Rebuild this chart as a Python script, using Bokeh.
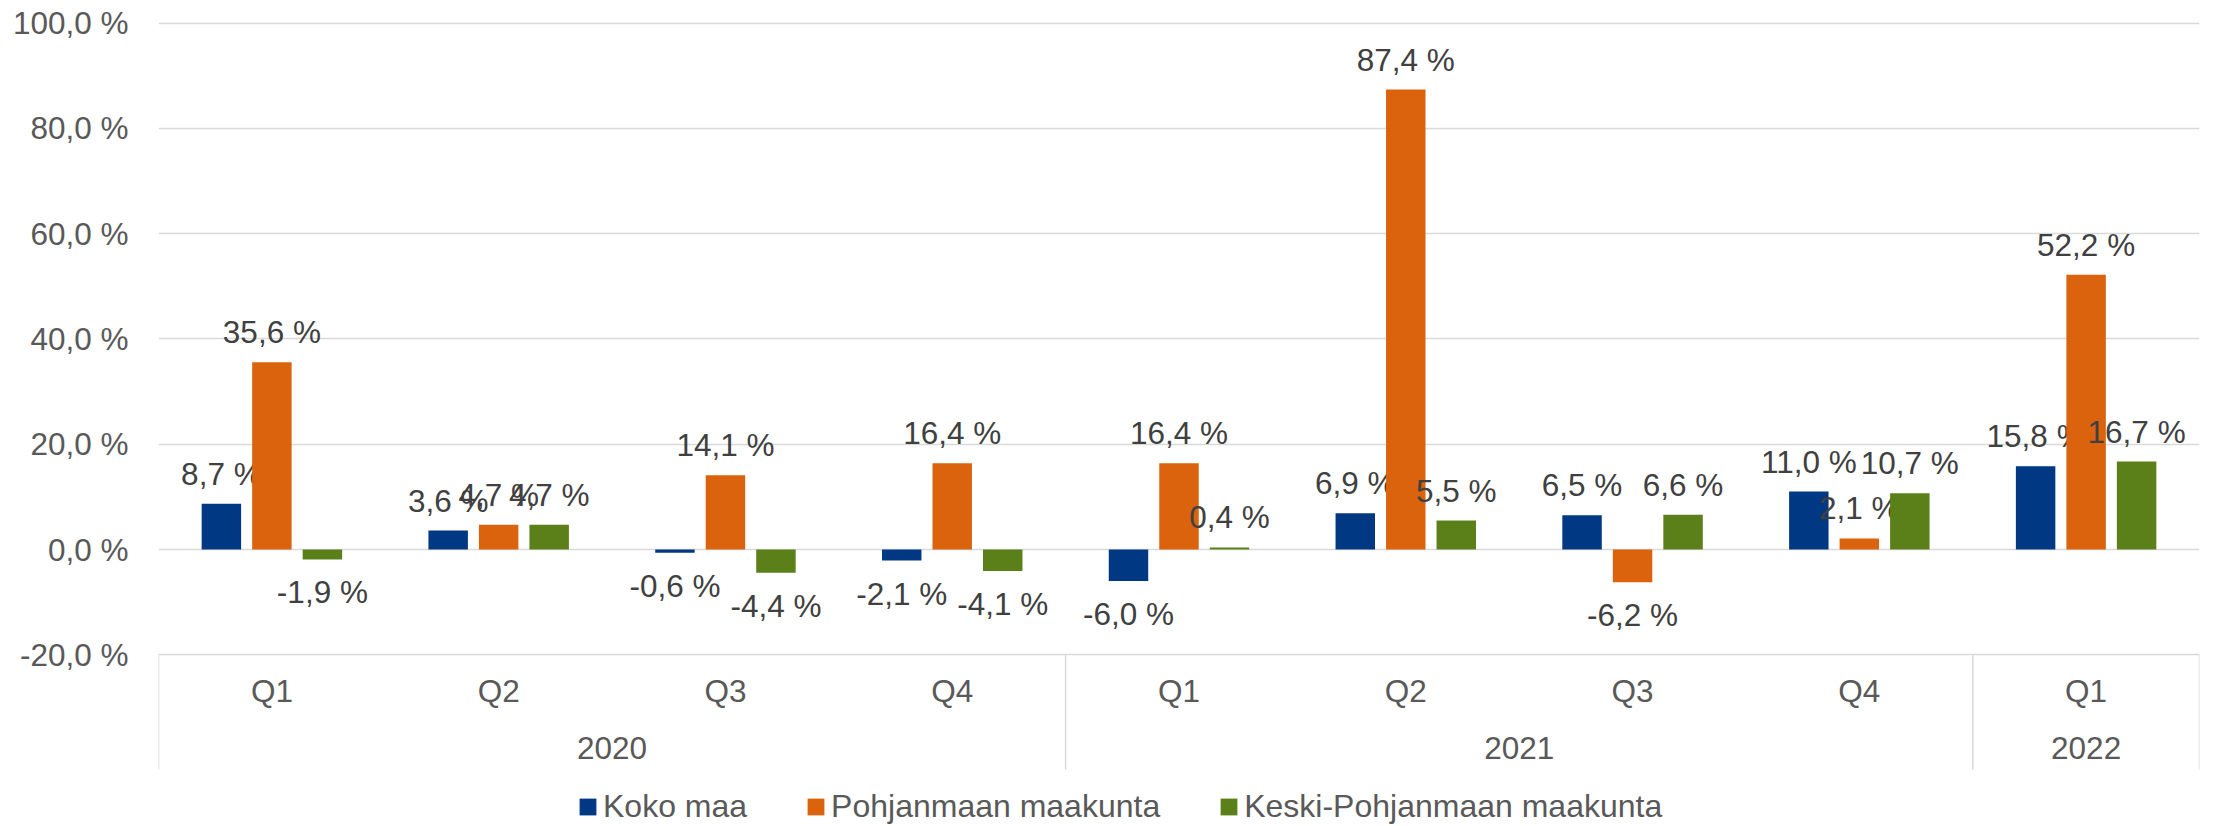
from bokeh.plotting import figure
from bokeh.models import ColumnDataSource, FixedTicker, Legend, LegendItem, Range1d
from bokeh.embed import file_html
from bokeh.resources import INLINE
from bokeh.core.properties import value

# ---- data ----
years = ["2020", "2021", "2022"]
year_spans = [4, 4, 1]
quarters = ["Q1", "Q2", "Q3", "Q4", "Q1", "Q2", "Q3", "Q4", "Q1"]
series_names = ["Koko maa", "Pohjanmaan maakunta", "Keski-Pohjanmaan maakunta"]
koko_maa = [8.7, 3.6, -0.6, -2.1, -6.0, 6.9, 6.5, 11.0, 15.8]
pohjanmaa = [35.6, 4.7, 14.1, 16.4, 16.4, 87.4, -6.2, 2.1, 52.2]
keski_pohjanmaa = [-1.9, 4.7, -4.4, -4.1, 0.4, 5.5, 6.6, 10.7, 16.7]
y_ticks = [-20, 0, 20, 40, 60, 80, 100]
y_tick_labels = ["-20,0 %", "0,0 %", "20,0 %", "40,0 %", "60,0 %", "80,0 %", "100,0 %"]

# ---- style ----
colors = ["#003884", "#DB630D", "#5B801A"]
FONT = "Liberation Sans"
FS = "31.5px"
GRID = "#D9D9D9"
W, H = 2214, 826
TOP, BOTTOM, LEFT, RIGHT = 16, 0, 158, 15
PX_PER_UNIT = 105.26 / 20.0
frame_h = H - TOP - BOTTOM
zero_px = 549 - TOP          # zero line, px from frame top
y_end = zero_px / PX_PER_UNIT
y_start = y_end - frame_h / PX_PER_UNIT


def page_y(py):
    # page pixel -> data value
    return (549 - py) / PX_PER_UNIT


p = figure(width=W, height=H, x_range=Range1d(0, len(quarters)),
           y_range=Range1d(y_start, y_end), output_backend="svg",
           toolbar_location=None, x_axis_location=None,
           min_border_left=LEFT, min_border_right=RIGHT,
           min_border_top=TOP, min_border_bottom=BOTTOM)
p.outline_line_color = None
p.background_fill_color = "white"
p.border_fill_color = "white"
p.xgrid.visible = False

p.yaxis.ticker = FixedTicker(ticks=y_ticks)
p.yaxis.major_label_overrides = {t: l for t, l in zip(y_ticks, y_tick_labels)}
p.yaxis.axis_line_color = None
p.yaxis.major_tick_line_color = None
p.yaxis.minor_tick_line_color = None
p.yaxis.major_tick_out = 0
p.yaxis.major_label_standoff = 30
p.yaxis.major_label_text_font = FONT
p.yaxis.major_label_text_font_size = FS
p.yaxis.major_label_text_color = "#595959"
p.ygrid.grid_line_color = GRID
p.ygrid.grid_line_width = 1.5

series = [koko_maa, pohjanmaa, keski_pohjanmaa]
offsets = [-0.2227, 0.0, 0.2227]
bar_w = 0.174
renderers = []
for vals, off, col in zip(series, offsets, colors):
    xs = [i + 0.5 + off for i in range(len(vals))]
    src = ColumnDataSource(dict(
        x=xs, top=vals,
        lab=[("%.1f" % v).replace(".", ",") + " %" for v in vals],
        yo=[-30 if v >= 0 else 33 for v in vals],
    ))
    r = p.vbar(x="x", top="top", bottom=0, width=bar_w, source=src,
               fill_color=col, line_color=None)
    renderers.append(r)
    p.text(x="x", y="top", text="lab", y_offset="yo", source=src,
           text_align="center", text_baseline="alphabetic",
           text_font=value(FONT), text_font_size=FS, text_color="#404040")

# category axis (multi-level) drawn in data space below -20 %
qsrc = ColumnDataSource(dict(x=[i + 0.5 for i in range(len(quarters))],
                             y=[page_y(690)] * len(quarters), t=quarters))
p.text(x="x", y="y", text="t", source=qsrc, text_align="center",
       text_baseline="middle", text_font=value(FONT), text_font_size=FS,
       text_color="#595959")
centers, bounds, acc = [], [0], 0
for s in year_spans:
    centers.append(acc + s / 2)
    acc += s
    bounds.append(acc)
ysrc = ColumnDataSource(dict(x=centers, y=[page_y(747)] * len(years), t=years))
p.text(x="x", y="y", text="t", source=ysrc, text_align="center",
       text_baseline="middle", text_font=value(FONT), text_font_size=FS,
       text_color="#595959")
p.segment(x0=bounds, x1=bounds, y0=[y_ticks[0]] * len(bounds),
          y1=[page_y(769)] * len(bounds), line_color=GRID, line_width=1.5)

legend = Legend(items=[LegendItem(label=n, renderers=[r]) for n, r in zip(series_names, renderers)],
                orientation="horizontal", location=(419, 1),
                glyph_width=21, glyph_height=21, label_standoff=5, spacing=58,
                padding=0, margin=0, border_line_color=None, background_fill_alpha=0,
                label_text_font=FONT, label_text_font_size="32px",
                label_text_color="#595959")
p.add_layout(legend)

open("out.html", "w").write(file_html(p, INLINE))
